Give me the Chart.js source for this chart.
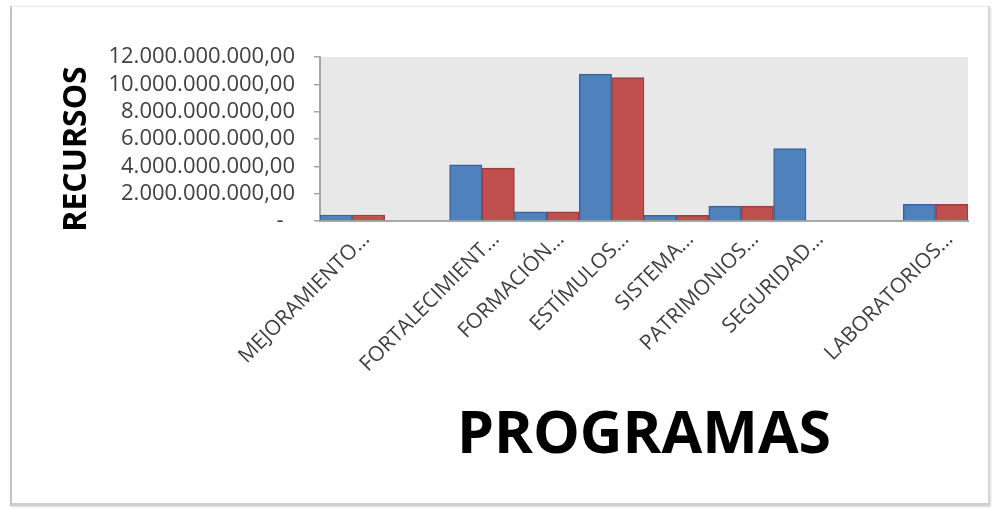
<!DOCTYPE html>
<html lang="es">
<head>
  <meta charset="UTF-8" />
  <title>Recursos por programa</title>
  <script src="https://cdn.jsdelivr.net/npm/chart.js"></script>
  <style>
    html, body {
      margin: 0;
      padding: 0;
      background: #fff;
    }
    .frame {
      position: absolute;
      left: 10px;
      top: 6px;
      width: 976px;
      height: 496px;
      border-left: 2px solid #c4c4c4;
      border-top: 1px solid #ececec;
      border-right: 2px solid #d4d4d4;
      border-bottom: 3px solid #cfcfcf;
      box-shadow: 1px 1px 3px rgba(0,0,0,0.15);
    }
    .chart-box {
      position: absolute;
      left: 0;
      top: 0;
      width: 992px;
      height: 508px;
    }
  </style>
</head>
<body>
  <div class="frame"></div>
  <div class="chart-box">
    <canvas id="chart" width="992" height="508"></canvas>
  </div>

  <script>
    // programas (las categorías vacías son los huecos del gráfico original)
    const programas = [
      'MEJORAMIENTO…', '', 'FORTALECIMIENT…', 'FORMACIÓN…', 'ESTÍMULOS…',
      'SISTEMA…', 'PATRIMONIOS…', 'SEGURIDAD…', '', 'LABORATORIOS…'
    ];
    const serieAzul = [440e6, null, 4110e6, 680e6, 10750e6, 410e6, 1090e6, 5300e6, null, 1220e6];
    const serieRoja = [440e6, null, 3870e6, 680e6, 10490e6, 410e6, 1090e6, null, null, 1220e6];
    const yMax = 12e9;
    const yPaso = 2e9;
    const tituloY = 'RECURSOS';
    const tituloX = 'PROGRAMAS';

    // formato contable: puntos de miles, coma decimal, guion para el cero
    function formatoPesos(v) {
      if (v === 0) return '-  ';
      return String(v).replace(/\B(?=(\d{3})+(?!\d))/g, '.') + ',00';
    }

    // fondo gris del área de trazado
    const fondoPlot = {
      id: 'fondoPlot',
      beforeDraw(chart) {
        const a = chart.chartArea;
        const ctx = chart.ctx;
        ctx.save();
        ctx.fillStyle = '#e8e8e8';
        ctx.fillRect(a.left, a.top, a.right - a.left, a.bottom - a.top);
        ctx.restore();
      }
    };

    // título vertical del eje Y, un poco más abajo que el centro del área
    const tituloEjeY = {
      id: 'tituloEjeY',
      afterDraw(chart) {
        const a = chart.chartArea;
        const ctx = chart.ctx;
        ctx.save();
        ctx.translate(77, (a.top + a.bottom) / 2 + 10);
        ctx.rotate(-Math.PI / 2);
        ctx.font = 'bold 32px "Open Sans"';
        ctx.fillStyle = '#000';
        ctx.textAlign = 'center';
        ctx.textBaseline = 'middle';
        ctx.fillText(tituloY, 0, 0);
        ctx.restore();
      }
    };

    const ctx = document.getElementById('chart').getContext('2d');
    new Chart(ctx, {
      type: 'bar',
      data: {
        labels: programas,
        datasets: [{
          label: 'Serie 1',
          data: serieAzul,
          backgroundColor: '#4f81bd',
          borderColor: '#3b659a',
          borderWidth: 1.5
        }, {
          label: 'Serie 2',
          data: serieRoja,
          backgroundColor: '#c0504d',
          borderColor: '#98403d',
          borderWidth: 1.5
        }]
      },
      options: {
        responsive: false,
        animation: false,
        categoryPercentage: 1,
        barPercentage: 1,
        layout: {
          padding: { left: 60, right: 24, top: 57, bottom: 20 }
        },
        plugins: {
          legend: { display: false },
          tooltip: { enabled: false }
        },
        scales: {
          x: {
            afterFit(s) { s.height = 267; },
            grid: { display: false, drawTicks: false },
            border: { color: '#a6a6a6', width: 2 },
            ticks: {
              autoSkip: false,
              maxRotation: 45,
              minRotation: 45,
              padding: 6,
              labelOffset: 14,
              color: '#404040',
              font: { family: 'Open Sans', size: 21 }
            },
            title: {
              display: true,
              text: tituloX,
              color: '#000',
              padding: { top: 0, bottom: 16 },
              font: { family: 'Open Sans', size: 59, weight: 'bold' }
            }
          },
          y: {
            min: 0,
            max: yMax,
            afterFit(s) { s.width = 260; },
            grid: { drawOnChartArea: false, tickLength: 6, color: '#a6a6a6', lineWidth: 1.5 },
            border: { color: '#a6a6a6', width: 2 },
            ticks: {
              stepSize: yPaso,
              autoSkip: false,
              padding: 19,
              color: '#404040',
              font: { family: 'Open Sans', size: 22, lineHeight: 1 },
              callback: formatoPesos
            },
            title: { display: false }
          }
        }
      },
      plugins: [fondoPlot, tituloEjeY]
    });
  </script>
</body>
</html>
